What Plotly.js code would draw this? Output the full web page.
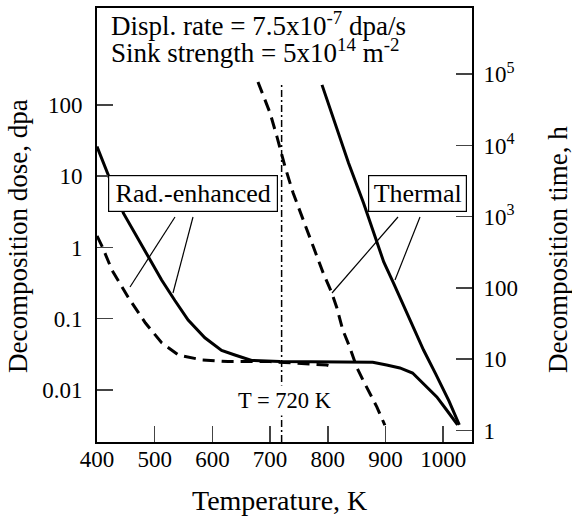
<!DOCTYPE html>
<html>
<head>
<meta charset="utf-8">
<script src="https://cdn.plot.ly/plotly-3.0.1.min.js"></script>
<style>html,body{margin:0;padding:0;background:#fff;}#chart{width:572px;height:523px;}</style>
</head>
<body>
<div id="chart"></div>
<script>
// ---- data (temperature in K, decomposition dose in dpa) ----
const radSolidT = [400, 420, 446, 489, 512, 535, 558, 587, 616, 639, 668, 717, 800, 878, 902, 925, 947, 964, 989, 1006, 1025];
const radSolidD = [26, 9.9, 3.0, 0.74, 0.35, 0.18, 0.096, 0.054, 0.036, 0.031, 0.026, 0.025, 0.025, 0.0245, 0.0224, 0.0204, 0.0173, 0.0125, 0.0080, 0.00524, 0.00323];

const radDashT = [400, 409, 426, 454, 484, 512, 541, 582, 627, 700, 798, 812];
const radDashD = [1.45, 1.03, 0.48, 0.20, 0.087, 0.046, 0.031, 0.0264, 0.025, 0.025, 0.0224, 0.0208];

const thermDashT = [679, 700, 712, 726, 740, 757, 775, 792, 807, 816, 826, 838, 850, 861, 873, 885, 899];
const thermDashD = [210, 77, 35.6, 13.5, 5.8, 2.43, 1.02, 0.44, 0.23, 0.14, 0.0695, 0.040, 0.021, 0.0138, 0.0091, 0.0058, 0.0032];

const thermSolidT = [790, 812, 836, 862, 885, 897, 913, 930, 947, 966, 987, 1010, 1028];
const thermSolidD = [191, 57.7, 15.3, 4.21, 1.16, 0.626, 0.328, 0.161, 0.0766, 0.0364, 0.0168, 0.00702, 0.00323];

const xTicks = [400, 500, 600, 700, 800, 900, 1000];
const doseTicks = [0.01, 0.1, 1, 10, 100];
const doseTickText = ['0.01', '0.1', '1', '10', '100'];
const timeTicks = [1, 10, 100, 1000, 10000, 100000];
const timeTickText = ['1', '10', '100', '10<sup>3</sup>', '10<sup>4</sup>', '10<sup>5</sup>'];
const refT = [720];
const displRate = 7.5e-7;   // dpa/s

// ---- layout helpers ----
const W = 572, H = 523;
const M = {l: 97, r: 100, t: 8, b: 81};
const PW = W - M.l - M.r, PH = H - M.t - M.b;
const px = x => (x - M.l) / PW;
const py = y => (H - M.b - y) / PH;

const doseRange = [-2.73, 3.36];
const shift = Math.log10(displRate * 3600);  // dose per hour
const timeRange = [doseRange[0] - shift, doseRange[1] - shift];

const FONT = '"Liberation Serif", "Times New Roman", serif';

const traces = [
  {x: radDashT, y: radDashD, mode: 'lines', line: {color: '#000', width: 3, dash: '12px,7px'}},
  {x: thermDashT, y: thermDashD, mode: 'lines', line: {color: '#000', width: 3, dash: '12px,7px'}},
  {x: radSolidT, y: radSolidD, mode: 'lines', line: {color: '#000', width: 3}},
  {x: thermSolidT, y: thermSolidD, mode: 'lines', line: {color: '#000', width: 3}},
  {x: [], y: [], yaxis: 'y2', mode: 'lines', showlegend: false}
];

const leader = (x0, y0, x1, y1) => ({type: 'line', xref: 'paper', yref: 'paper',
  x0: px(x0), y0: py(y0), x1: px(x1), y1: py(y1), line: {color: '#000', width: 1.2}});

const layout = {
  width: W, height: H,
  margin: M,
  paper_bgcolor: '#fff', plot_bgcolor: '#fff',
  showlegend: false,
  font: {family: FONT, color: '#000', size: 23},
  xaxis: {
    range: [400, 1050], tickvals: xTicks, ticks: 'inside', ticklen: 16, tickwidth: 1.5,
    showline: true, linewidth: 2, linecolor: '#000', mirror: true, showgrid: false, zeroline: false,
    tickfont: {family: FONT, size: 23, color: '#000'}, ticklabelstandoff: -5
  },
  yaxis: {
    type: 'log', range: doseRange, tickvals: doseTicks, ticktext: doseTickText,
    ticks: 'inside', ticklen: 16, tickwidth: 1.5,
    showline: true, linewidth: 2, linecolor: '#000', showgrid: false, zeroline: false,
    tickfont: {family: FONT, size: 23, color: '#000'}, ticklabelstandoff: 8
  },
  yaxis2: {
    type: 'log', range: timeRange, overlaying: 'y', side: 'right',
    tickvals: timeTicks, ticktext: timeTickText,
    ticks: 'inside', ticklen: 16, tickwidth: 1.5,
    showline: true, linewidth: 2, linecolor: '#000', showgrid: false, zeroline: false,
    tickfont: {family: FONT, size: 23, color: '#000'}, ticklabelstandoff: 5
  },
  shapes: [
    {type: 'line', xref: 'x', yref: 'paper', x0: refT[0], x1: refT[0], y0: 0, y1: py(85),
     line: {color: '#000', width: 1.5, dash: '7px,3px,2px,3px'}},
    leader(175, 217, 130, 287),
    leader(193, 217, 173, 293),
    leader(398, 217, 332, 293),
    leader(420, 217, 395, 280)
  ],
  annotations: [
    {xref: 'paper', yref: 'paper', x: px(109), y: py(24), xanchor: 'left', yanchor: 'middle', showarrow: false,
     text: 'Displ. rate = 7.5x10<sup>-7</sup> dpa/s', font: {family: FONT, size: 27}},
    {xref: 'paper', yref: 'paper', x: px(109), y: py(51), xanchor: 'left', yanchor: 'middle', showarrow: false,
     text: 'Sink strength = 5x10<sup>14</sup> m<sup>-2</sup>', font: {family: FONT, size: 27}},
    {xref: 'paper', yref: 'paper', x: px(193), y: py(193.5), xanchor: 'center', yanchor: 'middle', showarrow: false,
     text: 'Rad.-enhanced', font: {family: FONT, size: 26}, bgcolor: '#fff', bordercolor: '#000', borderwidth: 1.2,
     borderpad: 1, width: 166, height: 33},
    {xref: 'paper', yref: 'paper', x: px(417.5), y: py(193.5), xanchor: 'center', yanchor: 'middle', showarrow: false,
     text: 'Thermal', font: {family: FONT, size: 26}, bgcolor: '#fff', bordercolor: '#000', borderwidth: 1.2,
     borderpad: 1, width: 95, height: 33},
    {xref: 'paper', yref: 'paper', x: px(285), y: py(400), xanchor: 'center', yanchor: 'middle', showarrow: false,
     text: 'T = 720 K', font: {family: FONT, size: 22.5}, bgcolor: '#fff', borderpad: 2},
    {xref: 'paper', yref: 'paper', x: px(279), y: py(501), xanchor: 'center', yanchor: 'middle', showarrow: false,
     text: 'Temperature, K', font: {family: FONT, size: 28}},
    {xref: 'paper', yref: 'paper', x: px(18), y: py(236), xanchor: 'center', yanchor: 'middle', showarrow: false,
     text: 'Decomposition dose, dpa', font: {family: FONT, size: 27}, textangle: -90},
    {xref: 'paper', yref: 'paper', x: px(558), y: py(250), xanchor: 'center', yanchor: 'middle', showarrow: false,
     text: 'Decomposition time, h', font: {family: FONT, size: 27}, textangle: -90}
  ]
};

Plotly.newPlot('chart', traces, layout, {displayModeBar: false, staticPlot: true});
</script>
</body>
</html>
